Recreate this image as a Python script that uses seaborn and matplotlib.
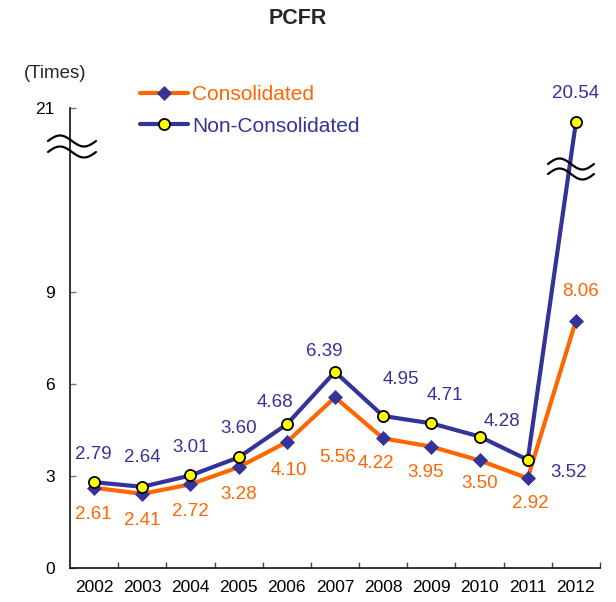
import numpy as np
import pandas as pd
import matplotlib
matplotlib.use("Agg")
import matplotlib.pyplot as plt
import seaborn as sns

# ─────────────────────────────────────────────
# Data
# ─────────────────────────────────────────────

years            = [2002, 2003, 2004, 2005, 2006, 2007, 2008, 2009, 2010, 2011, 2012]
consolidated     = [2.61, 2.41, 2.72, 3.28, 4.10, 5.56, 4.22, 3.95, 3.50, 2.92, 8.06]
non_consolidated = [2.79, 2.64, 3.01, 3.60, 4.68, 6.39, 4.95, 4.71, 4.28, 3.52, 20.54]
ytick_values     = [0, 3, 6, 9, 21]

# axis break: values above BREAK_AT are drawn SHIFT lower
BREAK_AT = 12
SHIFT    = 6

def shown(v):
    return v - SHIFT if v > BREAK_AT else v

# label offsets in pixels (dx, dy down-positive), hand-placed like the original
cons_off = [(-1, 27), (0, 27), (0, 27), (0, 27), (2, 28), (3, 60),
            (-7, 25), (-6, 26), (0, 23), (3, 25), (5, -29)]
non_off  = [(-1, -28), (0, -29), (0, -28), (0, -29), (-12, -22), (-11, -20),
            (18, -36), (14, -28), (22, -15), (41, 13), (0, -29)]

ORANGE = "#FF6600"
BLUE   = "#333399"

df = pd.DataFrame({
    "year": years * 2,
    "value": consolidated + non_consolidated,
    "series": ["Consolidated"] * len(years) + ["Non-Consolidated"] * len(years),
})
df["shown"] = df["value"].apply(shown)

# ─────────────────────────────────────────────
# Plot
# ─────────────────────────────────────────────

sns.set_theme(style="ticks")
plt.rcParams["font.family"] = ["Liberation Sans", "DejaVu Sans"]

W, H = 616, 602
fig = plt.figure(figsize=(W / 100, H / 100), dpi=100)
ax = fig.add_axes([70 / W, 34.3 / H, 530 / W, 459.7 / H])

sns.lineplot(data=df[df.series == "Consolidated"], x="year", y="shown",
             color=ORANGE, lw=3, marker="D", markersize=7,
             markerfacecolor=BLUE, markeredgecolor=BLUE, markeredgewidth=0.5,
             label="Consolidated", ax=ax, zorder=3)
sns.lineplot(data=df[df.series == "Non-Consolidated"], x="year", y="shown",
             color=BLUE, lw=3, marker="o", markersize=8,
             markerfacecolor="#FFFF00", markeredgecolor="black", markeredgewidth=1.3,
             label="Non-Consolidated", ax=ax, zorder=4)

for series, color, offs in [("Consolidated", ORANGE, cons_off),
                            ("Non-Consolidated", BLUE, non_off)]:
    sub = df[df.series == series]
    for (x, v, y), (dx, dy) in zip(sub[["year", "value", "shown"]].values, offs):
        ax.annotate(f"{v:.2f}", (x, y), xytext=(dx, -dy), textcoords="offset pixels",
                    ha="center", va="center", fontsize=13.5, color=color,
                    annotation_clip=False, zorder=5)

ax.set_xlim(years[0] - 0.5, years[-1] + 0.5)
ax.set_ylim(0, shown(ytick_values[-1]))
ax.set_xticks(years)
ax.set_xticklabels([str(y) for y in years])
ax.set_xticks(np.arange(years[0] + 0.5, years[-1] + 1), minor=True)
ax.set_yticks([shown(v) for v in ytick_values])
ax.set_yticklabels([str(v) for v in ytick_values])
ax.tick_params(axis="x", which="major", length=0, pad=9, labelsize=12.5, colors="black")
ax.tick_params(axis="x", which="minor", direction="in", length=4, width=1, color="#444444")
ax.tick_params(axis="y", direction="in", length=4, width=1, color="#777777",
               pad=11, labelsize=12.5, labelcolor="black")
ax.set_xlabel("")
ax.set_ylabel("")
sns.despine(ax=ax)
for s in ["left", "bottom"]:
    ax.spines[s].set_color("#111111")
    ax.spines[s].set_linewidth(1.2)

ax.legend(loc="upper left", bbox_to_anchor=(140 / W, 1 - 85 / H),
          bbox_transform=fig.transFigure, frameon=False, fontsize=15,
          handlelength=2.3, handletextpad=0.2, labelspacing=0.6,
          borderpad=0, borderaxespad=0, labelcolor="linecolor")

# overlay in pixel coordinates for titles and break marks
ov = fig.add_axes([0, 0, 1, 1], zorder=10)
ov.set_xlim(0, W)
ov.set_ylim(H, 0)
ov.axis("off")
ov.patch.set_alpha(0)

ov.text(298, 18, "PCFR", ha="center", va="center", fontsize=15.5, fontweight="bold")
ov.text(55, 73, "(Times)", ha="center", va="center", fontsize=13.5)

t = np.linspace(0, 1, 60)
def wave(cx, cy, w=48, a=5.5):
    ov.plot(cx - w / 2 + w * t, cy - a * np.sin(2 * np.pi * t), color="black", lw=1.6)

for cy in (141, 152):
    wave(72, cy)
for cy in (164, 174):
    wave(571, cy, w=46)

fig.savefig("out.png", dpi=100)
